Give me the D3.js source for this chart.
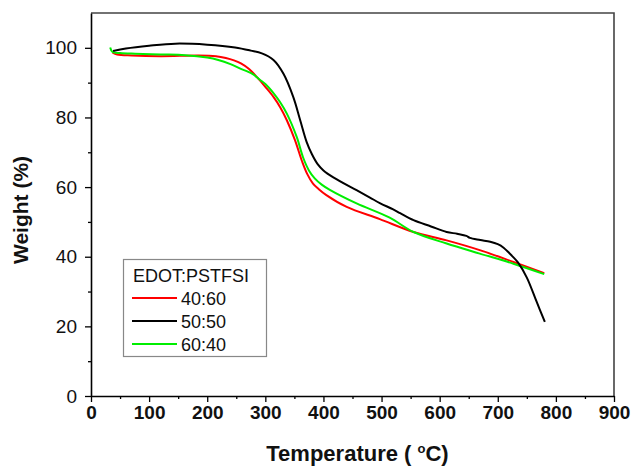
<!DOCTYPE html>
<html>
<head>
<meta charset="utf-8">
<script src="https://cdn.jsdelivr.net/npm/d3@7"></script>
<style>
  html, body { margin: 0; padding: 0; background: #fff; }
  svg { display: block; }
  text { font-family: "Liberation Sans", Arial, sans-serif; }
</style>
</head>
<body>
<svg id="chart" width="633" height="466"></svg>
<script>
// TGA curves of EDOT:PSTFSI blends: temperature (°C) vs. remaining weight (%)
const series = ["40:60", "50:50", "60:40"];
const colors = ["#ff0000", "#000000", "#00ee00"];

const temp4060 = [37, 45, 70, 120, 185, 215, 232, 246, 258, 272, 286, 300, 314, 326, 337, 351, 363, 372, 382, 392, 405, 440, 497, 555, 612, 669, 727, 780];
const wt4060   = [98.6, 98.1, 97.8, 97.6, 97.8, 97.6, 97.1, 96.4, 95.5, 93.9, 91.5, 88.8, 85.9, 82.8, 79.2, 73.5, 67.5, 63.8, 61.0, 59.4, 57.7, 54.3, 50.8, 47.1, 44.7, 41.9, 38.5, 35.3];

const temp5050 = [38, 60, 100, 145, 200, 248, 275, 294, 314, 331, 348, 360, 371, 380, 390, 400, 417, 457, 480, 497, 520, 532, 555, 585, 612, 630, 646, 652, 670, 687, 700, 710, 720, 727, 735, 750, 767, 781];
const wt5050   = [99.1, 99.8, 100.6, 101.2, 100.9, 100.1, 99.2, 98.4, 96.5, 92.6, 85.9, 79.2, 73.0, 69.5, 66.6, 64.8, 62.8, 59.1, 57.0, 55.4, 53.6, 52.5, 50.5, 48.7, 47.1, 46.6, 46.0, 45.4, 44.8, 44.3, 43.6, 42.6, 41.0, 39.8, 38.3, 34.0, 27.0, 21.3];

const temp6040 = [33, 37, 50, 76, 120, 162, 200, 219, 240, 256, 277, 290, 300, 314, 325, 337, 354, 365, 375, 385, 397, 411, 457, 514, 555, 612, 669, 727, 780];
const wt6040   = [100.1, 98.8, 98.5, 98.3, 98.1, 97.9, 97.2, 96.5, 95.3, 94.1, 92.6, 90.9, 89.6, 87.0, 84.5, 81.1, 74.4, 68.5, 64.8, 62.5, 60.7, 59.2, 55.3, 51.2, 47.1, 43.8, 40.9, 38.0, 35.0];

const xTicks = [0, 100, 200, 300, 400, 500, 600, 700, 800, 900];
const yTicks = [0, 20, 40, 60, 80, 100];
const legendTitle = "EDOT:PSTFSI";

const temps = [temp4060, temp5050, temp6040];
const weights = [wt4060, wt5050, wt6040];

const svg = d3.select("#chart");
const plotL = 91, plotR = 614, plotT = 13, plotB = 396;

const x = d3.scaleLinear().domain([0, 900]).range([plotL, plotR]);
const y = d3.scaleLinear().domain([0, 110]).range([plotB, plotT]);

// frame: top and right edges
svg.append("path")
  .attr("d", `M${plotL},${plotT}H${plotR}V${plotB}`)
  .attr("fill", "none").attr("stroke", "#444").attr("stroke-width", 1.6);

// minor ticks
const xMinor = d3.range(50, 900, 100);
const yMinor = d3.range(10, 110, 20);

const xAxis = svg.append("g").attr("transform", `translate(0,${plotB})`)
  .call(d3.axisBottom(x).tickValues(xTicks).tickFormat(d3.format("d")).tickSize(6).tickSizeOuter(0).tickPadding(4));
xAxis.selectAll(".tick text").attr("font-size", 19).attr("font-weight", "bold")
  .attr("font-family", "Liberation Sans, Arial, sans-serif").attr("fill", "#111");
svg.append("g").attr("transform", `translate(0,${plotB})`)
  .call(d3.axisBottom(x).tickValues(xMinor).tickFormat("").tickSize(3).tickSizeOuter(0))
  .select(".domain").remove();

const yAxis = svg.append("g").attr("transform", `translate(${plotL},0)`)
  .call(d3.axisLeft(y).tickValues(yTicks).tickFormat(d3.format("d")).tickSize(6).tickSizeOuter(0).tickPadding(8));
yAxis.selectAll(".tick text").attr("font-size", 19)
  .attr("font-family", "Liberation Sans, Arial, sans-serif").attr("fill", "#111");
svg.append("g").attr("transform", `translate(${plotL},0)`)
  .call(d3.axisLeft(y).tickValues(yMinor).tickFormat("").tickSize(3).tickSizeOuter(0))
  .select(".domain").remove();

svg.selectAll(".domain").attr("stroke", "#000").attr("stroke-width", 1.6);
svg.selectAll(".tick line").attr("stroke", "#000").attr("stroke-width", 1.3);

// axis titles
const xt = svg.append("text")
  .attr("x", (plotL + plotR) / 2 + 5).attr("y", 461)
  .attr("text-anchor", "middle").attr("font-size", 22).attr("font-weight", "bold").attr("fill", "#111");
xt.append("tspan").text("Temperature ( ");
xt.append("tspan").attr("dy", -8).attr("font-size", 13).text("o");
xt.append("tspan").attr("dy", 8).text("C)");

svg.append("text")
  .attr("transform", `translate(28,210) rotate(-90)`)
  .attr("text-anchor", "middle").attr("font-size", 21).attr("font-weight", "bold").attr("fill", "#111")
  .text("Weight (%)");

// curves
const line = d3.line().x(d => x(d[0])).y(d => y(d[1])).curve(d3.curveCatmullRom.alpha(0.5));
const drawOrder = [0, 2, 1];
drawOrder.forEach(i => {
  const pts = temps[i].map((t, k) => [t, weights[i][k]]);
  svg.append("path")
    .datum(pts)
    .attr("d", line)
    .attr("fill", "none")
    .attr("stroke", colors[i])
    .attr("stroke-width", 2)
    .attr("stroke-linejoin", "round");
});

// legend
const lg = svg.append("g");
lg.append("rect").attr("x", 123.5).attr("y", 259.5).attr("width", 143).attr("height", 97)
  .attr("fill", "#fff").attr("stroke", "#888").attr("stroke-width", 1.2);
lg.append("text").attr("x", 133).attr("y", 282).attr("font-size", 18).attr("fill", "#111").text(legendTitle);
series.forEach((s, i) => {
  const yy = 298 + i * 23;
  lg.append("line").attr("x1", 132).attr("x2", 177).attr("y1", yy).attr("y2", yy)
    .attr("stroke", colors[i]).attr("stroke-width", 2);
  lg.append("text").attr("x", 181).attr("y", yy + 6.5).attr("font-size", 18).attr("fill", "#111").text(s);
});
</script>
</body>
</html>
